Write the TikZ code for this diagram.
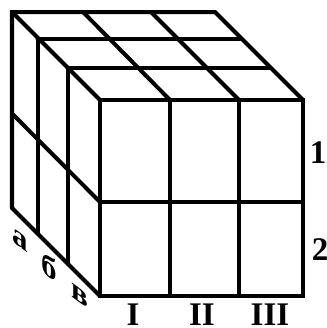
\documentclass[tikz,border=0pt]{standalone}
\usepackage{fontspec}
\setmainfont{Liberation Serif}
\tikzset{
  edge/.style={line width=4bp,line cap=round,line join=miter,black},
  lab/.style={font=\bfseries\fontsize{33bp}{33bp}\selectfont,inner sep=0pt,text=black},
  sidelab/.style={font=\bfseries\fontsize{31bp}{31bp}\selectfont,inner sep=0pt,text=black,transform shape,yslant=-0.75}
}
\begin{document}
\begin{tikzpicture}[x=1bp,y=-1bp]
\useasboundingbox (0,0) rectangle (327,328);
% front face
\coordinate (f00) at (100,100); \coordinate (f10) at (170,100); \coordinate (f20) at (239,100); \coordinate (f30) at (303,100);
\coordinate (f01) at (100,202); \coordinate (f31) at (303,202);
\coordinate (f02) at (100,296); \coordinate (f12) at (170,296); \coordinate (f22) at (239,296); \coordinate (f32) at (303,296);
% back edge
\coordinate (b0) at (12,12); \coordinate (b1) at (83,12); \coordinate (b2) at (151,12); \coordinate (b3) at (215,12);
\coordinate (bm) at (12,113.5); \coordinate (bb) at (12,208);
% intermediate layers
\coordinate (m0) at (37.5,38.5); \coordinate (m3) at (240,38.5); \coordinate (mb) at (37.5,233);
\coordinate (n0) at (67.5,68); \coordinate (n3) at (270,68); \coordinate (nb) at (67.5,264);
% front
\draw[edge] (f00) rectangle (f32);
\draw[edge] (f01) -- (f31);
\draw[edge] (f10) -- (f12);
\draw[edge] (f20) -- (f22);
% top and side outline
\draw[edge] (bb) -- (b0) -- (b3) -- (f30);
\draw[edge] (b0) -- (f00);
\draw[edge] (b1) -- (f10);
\draw[edge] (b2) -- (f20);
\draw[edge] (m0) -- (m3);
\draw[edge] (n0) -- (n3);
\draw[edge] (m0) -- (mb);
\draw[edge] (n0) -- (nb);
\draw[edge] (bm) -- (f01);
\draw[edge] (bb) -- (f02);
% labels
\node[lab] (r1) at (318,153) {1};
\node[lab] (r2) at (320,250) {2};
\node[lab] (c1) at (133,315) {I};
\node[lab] (c2) at (202,315) {II};
\node[lab] (c3) at (270,315) {III};
\node[sidelab] (sa) at (20,240.5) {а};
\node[sidelab] (sb) at (49.5,266.5) {б};
\node[sidelab] (sc) at (79.5,295.5) {в};
\end{tikzpicture}
\end{document}
